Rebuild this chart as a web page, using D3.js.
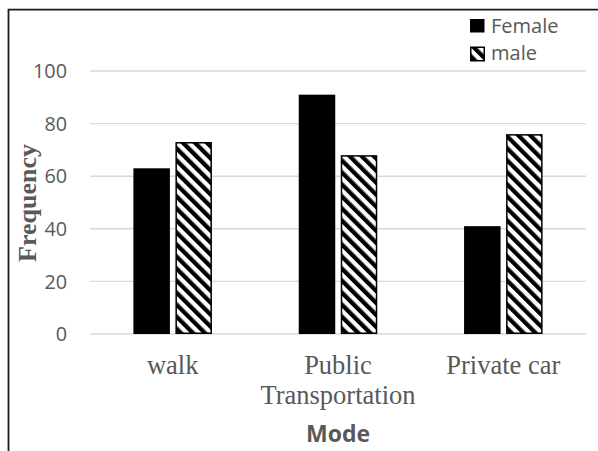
<!DOCTYPE html>
<html>
<head>
<meta charset="utf-8">
<script src="https://cdn.jsdelivr.net/npm/d3@7"></script>
<style>
  html, body { margin: 0; padding: 0; background: #fff; }
  svg { display: block; }
</style>
</head>
<body>
<svg id="chart" width="598" height="451"></svg>
<script>
const categories = [["walk"], ["Public", "Transportation"], ["Private car"]];
const categoryKeys = ["walk", "Public Transportation", "Private car"];
const seriesNames = ["Female", "male"];
const female = [63, 91, 41];
const male = [73, 68, 76];
const yTicks = [0, 20, 40, 60, 80, 100];
const xTitle = "Mode";
const yTitle = "Frequency";

const svg = d3.select("#chart");
const grey = "#595959";
const sans = "'Open Sans', 'Noto Sans', sans-serif";
const serif = "'Liberation Serif', 'Times New Roman', serif";

const defs = svg.append("defs");
const pat = defs.append("pattern")
  .attr("id", "hatch")
  .attr("patternUnits", "userSpaceOnUse")
  .attr("width", 8.5).attr("height", 8.5)
  .attr("patternTransform", "rotate(-45)");
pat.append("rect").attr("width", 8.5).attr("height", 8.5).attr("fill", "#fff");
pat.append("rect").attr("width", 4.25).attr("height", 8.5).attr("fill", "#000");

// frame (top and left)
svg.append("path")
  .attr("d", d3.line()([[8.5, 451], [8.5, 9.7], [598, 9.7]]))
  .attr("fill", "none").attr("stroke", "#1a1a1a").attr("stroke-width", 1.8);

const y = d3.scaleLinear().domain([0, 100]).range([334, 71]);
const x0 = d3.scaleBand().domain(categoryKeys).range([90, 586])
  .paddingInner(0.525).paddingOuter(0.2625);
const x1 = d3.scaleBand().domain(seriesNames).range([0, x0.bandwidth()])
  .paddingInner(0.131);

// gridlines
svg.append("g").selectAll("line").data(yTicks).join("line")
  .attr("x1", 90).attr("x2", 586)
  .attr("y1", d => y(d)).attr("y2", d => y(d))
  .attr("stroke", "#d9d9d9").attr("stroke-width", 1.4);

// y tick labels
svg.append("g").selectAll("text").data(yTicks).join("text")
  .attr("x", 67).attr("y", d => y(d)).attr("dy", "0.36em")
  .attr("text-anchor", "end")
  .attr("font-family", sans).attr("font-size", 19.8).attr("fill", grey)
  .text(d => d);

// bars
const data = categoryKeys.map((c, i) => ({ cat: c, vals: [female[i], male[i]] }));
const g = svg.append("g").selectAll("g").data(data).join("g")
  .attr("transform", d => `translate(${x0(d.cat)},0)`);
g.selectAll("rect").data(d => d.vals.map((v, j) => ({ key: seriesNames[j], v }))).join("rect")
  .attr("x", d => x1(d.key) + (d.key === "male" ? 0.75 : 0))
  .attr("width", d => x1.bandwidth() - (d.key === "male" ? 1.5 : 0))
  .attr("y", d => y(d.v) + (d.key === "male" ? 0.75 : 0))
  .attr("height", d => y(0) - y(d.v) - (d.key === "male" ? 1.5 : 0))
  .attr("fill", d => d.key === "male" ? "url(#hatch)" : "#000")
  .attr("stroke", "#000")
  .attr("stroke-width", d => d.key === "male" ? 1.5 : 0);

// category labels
const cl = svg.append("g").selectAll("text").data(categories).join("text")
  .attr("x", (d, i) => x0(categoryKeys[i]) + x0.bandwidth() / 2)
  .attr("y", 374)
  .attr("text-anchor", "middle")
  .attr("font-family", serif).attr("font-size", 26.5).attr("fill", grey);
cl.selectAll("tspan").data(d => d).join("tspan")
  .attr("x", function () { return this.parentNode.getAttribute("x"); })
  .attr("dy", (d, i) => i === 0 ? 0 : 30)
  .text(d => d);

// axis titles
svg.append("text")
  .attr("x", 338).attr("y", 442)
  .attr("text-anchor", "middle")
  .attr("font-family", sans).attr("font-weight", "bold").attr("font-size", 23).attr("fill", grey)
  .text(xTitle);

svg.append("text")
  .attr("transform", "translate(36,203) rotate(-90)")
  .attr("text-anchor", "middle")
  .attr("font-family", serif).attr("font-weight", "bold").attr("font-size", 26).attr("fill", grey)
  .text(yTitle);

// legend
const leg = svg.append("g").selectAll("g").data(seriesNames).join("g")
  .attr("transform", (d, i) => `translate(470,${19 + i * 27.5})`);
leg.append("rect")
  .attr("x", d => d === "male" ? 0.75 : 0).attr("y", d => d === "male" ? 0.75 : 0)
  .attr("width", d => d === "male" ? 13.5 : 14.5).attr("height", d => d === "male" ? 13.5 : 13.5)
  .attr("fill", d => d === "male" ? "url(#hatch)" : "#000")
  .attr("stroke", "#000").attr("stroke-width", d => d === "male" ? 1.5 : 0);
leg.append("text")
  .attr("x", 21).attr("y", 13.5)
  .attr("font-family", sans).attr("font-size", 20).attr("fill", grey)
  .text(d => d);
</script>
</body>
</html>
